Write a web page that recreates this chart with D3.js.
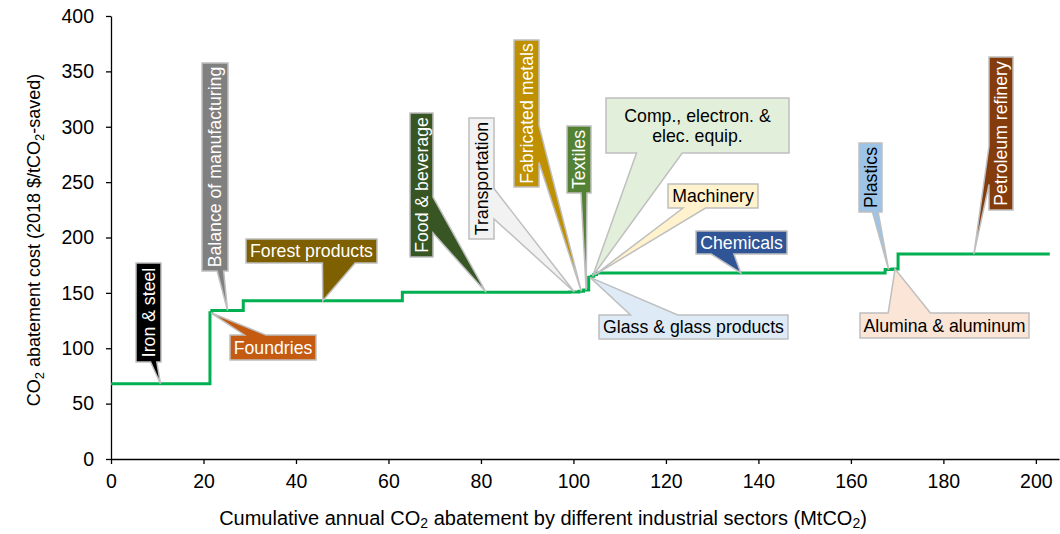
<!DOCTYPE html>
<html>
<head>
<meta charset="utf-8">
<script src="https://cdn.jsdelivr.net/npm/d3@7"></script>
<style>
body { margin: 0; background: #fff; }
text { font-family: "Liberation Sans", Arial, sans-serif; }
</style>
</head>
<body>
<div id="chart"></div>
<script>
// sectors in merit order along the abatement cost curve
var sectors = ["Iron & steel", "Foundries", "Balance of manufacturing", "Forest products",
    "Food & beverage", "Transportation", "Fabricated metals", "Textiles",
    "Glass & glass products", "Comp., electron. & elec. equip.", "Machinery", "Chemicals",
    "Plastics", "Alumina & aluminum", "Petroleum refinery"];
// annual abatement of each sector (MtCO2) = width of each step
var abatement = [21.4, 0.4, 6.8, 34.4, 36.2, 2.0, 1.0, 1.1, 0.6, 0.5, 0.6, 62.4, 1.5, 1.3, 32.8];
// abatement cost (2018 $/tCO2-saved) = height of each step
var cost = [68, 132, 134, 143, 150.5, 150.8, 151.5, 152.5, 164, 165, 166.5, 168, 171, 171.5, 185];

var xTicks = [0, 20, 40, 60, 80, 100, 120, 140, 160, 180, 200];
var yTicks = [0, 50, 100, 150, 200, 250, 300, 350, 400];

// callout boxes (pixel layout), the wedge tip comes from the data
var callouts = {
    "Iron & steel":            {box: [136, 263, 25, 99],  fill: "#000000", ink: "#fff", vertical: true},
    "Foundries":               {box: [230, 335, 86, 25],  fill: "#c55a11", ink: "#fff"},
    "Balance of manufacturing":{box: [202, 63, 26, 208],  fill: "#808080", ink: "#fff", vertical: true},
    "Forest products":         {box: [246, 239, 131, 24], fill: "#7f6000", ink: "#fff"},
    "Food & beverage":         {box: [410, 113, 23, 144], fill: "#375623", ink: "#fff", vertical: true},
    "Transportation":          {box: [469, 118, 25, 121], fill: "#f2f2f2", ink: "#000", vertical: true},
    "Fabricated metals":       {box: [514, 40, 25, 147],  fill: "#bf9000", ink: "#fff", vertical: true},
    "Textiles":                {box: [567, 126, 24, 67],  fill: "#548235", ink: "#fff", vertical: true},
    "Glass & glass products":  {box: [599, 315, 189, 24], fill: "#deebf7", ink: "#000"},
    "Comp., electron. & elec. equip.": {box: [606, 98, 183, 55], fill: "#e2efda", ink: "#000",
        lines: ["Comp., electron. &", "elec. equip."]},
    "Machinery":               {box: [668, 184, 90, 24],  fill: "#fff2cc", ink: "#000"},
    "Chemicals":               {box: [696, 231, 91, 23],  fill: "#2f5597", ink: "#fff"},
    "Plastics":                {box: [859, 143, 23, 69],  fill: "#9dc3e6", ink: "#000", vertical: true},
    "Alumina & aluminum":      {box: [860, 313, 169, 25], fill: "#fbe5d6", ink: "#000"},
    "Petroleum refinery":      {box: [989, 57, 24, 153],  fill: "#843c0c", ink: "#fff", vertical: true}
};

var W = 1060, H = 534;
var svg = d3.select("#chart").append("svg").attr("width", W).attr("height", H);

var x = d3.scaleLinear().domain([0, 205]).range([111, 1059]);
var y = d3.scaleLinear().domain([0, 400]).range([459, 16]);

var ends = d3.cumsum(abatement);
var steps = sectors.map(function(s, i) {
    return {name: s, x0: ends[i] - abatement[i], x1: ends[i], v: cost[i]};
});

// axes
var xAxis = svg.append("g").attr("transform", "translate(0," + y(0) + ")")
    .call(d3.axisBottom(x).tickValues(xTicks).tickSize(5).tickSizeOuter(0).tickPadding(10));
var yAxis = svg.append("g").attr("transform", "translate(" + x(0) + ",0)")
    .call(d3.axisLeft(y).tickValues(yTicks).tickSize(5).tickSizeOuter(0).tickPadding(12));
[xAxis, yAxis].forEach(function(a) {
    a.selectAll("path, line").attr("stroke", "#000").attr("stroke-width", 1.3);
    a.selectAll("text").attr("font-size", 19.5).attr("fill", "#000")
        .attr("font-family", "'Liberation Sans', Arial, sans-serif");
});

// step line
var pts = steps.map(function(d) { return [d.x0, d.v]; });
pts.push([steps[steps.length - 1].x1, steps[steps.length - 1].v]);
svg.append("path").datum(pts)
    .attr("d", d3.line().x(function(d) { return x(d[0]); }).y(function(d) { return y(d[1]); })
        .curve(d3.curveStepAfter))
    .attr("fill", "none").attr("stroke", "#00b050").attr("stroke-width", 3);

// rectangle callout with a wedge, like an office "wedgeRectCallout"
function calloutPath(b, tx, ty) {
    var bx = b[0], by = b[1], bw = b[2], bh = b[3];
    var dx = tx - (bx + bw / 2), dy = ty - (by + bh / 2);
    var side = Math.abs(dx) / bw > Math.abs(dy) / bh ? (dx > 0 ? "r" : "l") : (dy > 0 ? "b" : "t");
    var fx = dx > 0 ? [7, 10] : [2, 5], fy = dy > 0 ? [7, 10] : [2, 5];
    var p = d3.path();
    p.moveTo(bx, by);
    if (side == "t") { p.lineTo(bx + bw * fx[0] / 12, by); p.lineTo(tx, ty); p.lineTo(bx + bw * fx[1] / 12, by); }
    p.lineTo(bx + bw, by);
    if (side == "r") { p.lineTo(bx + bw, by + bh * fy[0] / 12); p.lineTo(tx, ty); p.lineTo(bx + bw, by + bh * fy[1] / 12); }
    p.lineTo(bx + bw, by + bh);
    if (side == "b") { p.lineTo(bx + bw * fx[1] / 12, by + bh); p.lineTo(tx, ty); p.lineTo(bx + bw * fx[0] / 12, by + bh); }
    p.lineTo(bx, by + bh);
    if (side == "l") { p.lineTo(bx, by + bh * fy[1] / 12); p.lineTo(tx, ty); p.lineTo(bx, by + bh * fy[0] / 12); }
    p.closePath();
    return p.toString();
}

var g = svg.append("g").selectAll("g").data(steps).enter().append("g");
g.append("path")
    .attr("d", function(d) {
        var c = callouts[d.name];
        return calloutPath(c.box, x((d.x0 + d.x1) / 2), y(d.v));
    })
    .attr("fill", function(d) { return callouts[d.name].fill; })
    .attr("stroke", "#bfbfbf").attr("stroke-width", 1.5).attr("stroke-linejoin", "miter");

g.append("text")
    .attr("transform", function(d) {
        var b = callouts[d.name].box;
        var cx = b[0] + b[2] / 2, cy = b[1] + b[3] / 2;
        return "translate(" + cx + "," + cy + ")" + (callouts[d.name].vertical ? " rotate(-90)" : "");
    })
    .attr("text-anchor", "middle").attr("font-size", 17.7)
    .attr("fill", function(d) { return callouts[d.name].ink; })
    .each(function(d) {
        var lines = callouts[d.name].lines || [d.name];
        var t = d3.select(this);
        lines.forEach(function(l, i) {
            t.append("tspan").attr("x", 0)
                .attr("y", (i - (lines.length - 1) / 2) * 20)
                .attr("dy", "0.35em").text(l);
        });
    });

// axis titles
var xt = svg.append("text").attr("x", 543).attr("y", 525).attr("text-anchor", "middle")
    .attr("font-size", 20).attr("fill", "#000");
xt.append("tspan").text("Cumulative annual CO");
xt.append("tspan").attr("font-size", 14).attr("dy", 3).text("2");
xt.append("tspan").attr("dy", -3).text(" abatement by different industrial sectors (MtCO");
xt.append("tspan").attr("font-size", 14).attr("dy", 3).text("2");
xt.append("tspan").attr("dy", -3).text(")");

var yt = svg.append("text").attr("transform", "translate(40,240) rotate(-90)")
    .attr("text-anchor", "middle").attr("font-size", 18).attr("fill", "#000");
yt.append("tspan").text("CO");
yt.append("tspan").attr("font-size", 13).attr("dy", 4).text("2");
yt.append("tspan").attr("dy", -4).text(" abatement cost (2018 $/tCO");
yt.append("tspan").attr("font-size", 13).attr("dy", 4).text("2");
yt.append("tspan").attr("dy", -4).text("-saved)");
</script>
</body>
</html>
